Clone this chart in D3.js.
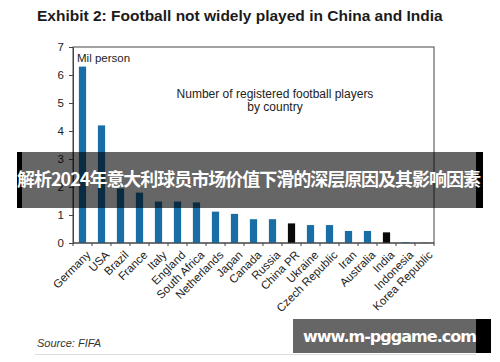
<!DOCTYPE html>
<html>
<head>
<meta charset="utf-8">
<script src="https://cdn.jsdelivr.net/npm/d3@7"></script>
<style>
  body { margin: 0; background: #fff; }
  svg { display: block; font-family: "Liberation Sans", Arial, sans-serif; }
</style>
</head>
<body>
<script>
const countries = ['Germany', 'USA', 'Brazil', 'France', 'Italy', 'England', 'South Africa', 'Netherlands',
    'Japan', 'Canada', 'Russia', 'China PR', 'Ukraine', 'Czech Republic', 'Iran', 'Australia', 'India',
    'Indonesia', 'Korea Republic'];
const players = [6.3, 4.2, 1.95, 1.8, 1.48, 1.48, 1.45, 1.12, 1.04, 0.85, 0.85, 0.7, 0.64, 0.64, 0.43, 0.43, 0.38, 0.03, 0.01];
const highlighted = ['China PR', 'India'];
const yTicks = [0, 1, 2, 3, 4, 5, 6, 7];

const width = 500, height = 362;
const plot = { left: 73, right: 434, top: 47, bottom: 243 };

const svg = d3.select('body').append('svg')
    .attr('width', width)
    .attr('height', height);

// title
svg.append('text')
    .attr('x', 37).attr('y', 21)
    .style('font-size', '15.5px').style('font-weight', 'bold').style('fill', '#1b1b1b')
    .text('Exhibit 2: Football not widely played in China and India');

const x = d3.scaleBand()
    .domain(countries)
    .range([plot.left, plot.right])
    .paddingInner(0.62)
    .paddingOuter(0.31);

const y = d3.scaleLinear()
    .domain([0, 7])
    .range([plot.bottom, plot.top]);

// frame
svg.append('rect')
    .attr('x', plot.left).attr('y', plot.top)
    .attr('width', plot.right - plot.left).attr('height', plot.bottom - plot.top)
    .attr('fill', 'none').attr('stroke', '#444').attr('stroke-width', 1);

// bars
svg.append('g').selectAll('rect')
    .data(countries)
    .enter()
    .append('rect')
    .attr('x', d => x(d))
    .attr('width', x.bandwidth())
    .attr('y', (d, i) => y(players[i]))
    .attr('height', (d, i) => y(0) - y(players[i]))
    .attr('fill', d => highlighted.includes(d) ? '#0a0a0a' : '#1a6ea6');

// y axis
const yAxis = svg.append('g')
    .attr('transform', `translate(${plot.left},0)`)
    .call(d3.axisLeft(y).tickValues(yTicks).tickSize(4).tickPadding(5).tickFormat(d3.format('d')));
yAxis.select('.domain').attr('stroke', '#444');
yAxis.selectAll('line').attr('stroke', '#444');
yAxis.selectAll('text').style('font-size', '11.5px').style('fill', '#222').style('font-family', 'Liberation Sans, Arial');

// x axis: ticks at band edges, rotated labels
const edges = countries.map(c => x(c) - x.step() * x.paddingInner() / 2).concat([plot.right]);
const xAxis = svg.append('g').attr('transform', `translate(0,${plot.bottom})`);
xAxis.append('line')
    .attr('x1', plot.left).attr('x2', plot.right)
    .attr('stroke', '#444');
xAxis.selectAll('.tick')
    .data(edges)
    .enter()
    .append('line')
    .attr('x1', d => d).attr('x2', d => d)
    .attr('y1', 0).attr('y2', 3)
    .attr('stroke', '#444');
xAxis.selectAll('.lbl')
    .data(countries)
    .enter()
    .append('text')
    .attr('transform', d => `translate(${x(d) + x.bandwidth() / 2 + 3},${7}) rotate(-45)`)
    .attr('text-anchor', 'end')
    .attr('dy', '0.7em')
    .style('font-size', '11.5px').style('fill', '#222')
    .text(d => d);

// annotations
svg.append('text')
    .attr('x', 77).attr('y', 62)
    .style('font-size', '11.5px').style('fill', '#222')
    .text('Mil  person');
const note = svg.append('text')
    .attr('text-anchor', 'middle')
    .style('font-size', '12px').style('fill', '#222');
note.append('tspan').attr('x', 275).attr('y', 98).text('Number of registered football players');
note.append('tspan').attr('x', 275).attr('y', 111).text('by country');

// source + rule
svg.append('text')
    .attr('x', 37).attr('y', 347)
    .style('font-size', '11px').style('font-style', 'italic').style('fill', '#333')
    .text('Source: FIFA');
svg.append('line')
    .attr('x1', 35).attr('x2', 476)
    .attr('y1', 354.5).attr('y2', 354.5)
    .attr('stroke', '#ddd');

// overlay banner
svg.append('rect')
    .attr('x', 17).attr('y', 152).attr('width', 466).attr('height', 56)
    .attr('fill', '#000').attr('opacity', 0.6);
svg.append('rect').attr('x', 17).attr('y', 152).attr('width', 5).attr('height', 56).attr('fill', '#000');
svg.append('rect').attr('x', 476).attr('y', 152).attr('width', 7).attr('height', 56).attr('fill', '#000');
svg.append('text')
    .attr('x', 249).attr('y', 186)
    .attr('text-anchor', 'middle')
    .attr('textLength', 464)
    .style('font-family', '"Noto Sans CJK SC", sans-serif')
    .style('font-size', '18px').style('font-weight', 'bold').style('fill', '#fff')
    .text('解析2024年意大利球员市场价值下滑的深层原因及其影响因素');

// watermark
svg.append('rect')
    .attr('x', 293).attr('y', 319).attr('width', 198).attr('height', 34)
    .attr('fill', '#000').attr('opacity', 0.6);
svg.append('rect').attr('x', 476).attr('y', 319).attr('width', 15).attr('height', 34).attr('fill', '#000');
svg.append('text')
    .attr('x', 303).attr('y', 342)
    .style('font-family', '"DejaVu Sans", sans-serif')
    .style('font-size', '16px').style('font-weight', 'bold').style('fill', '#fff')
    .attr('textLength', 174)
    .text('www.m-pggame.com');
</script>
</body>
</html>
